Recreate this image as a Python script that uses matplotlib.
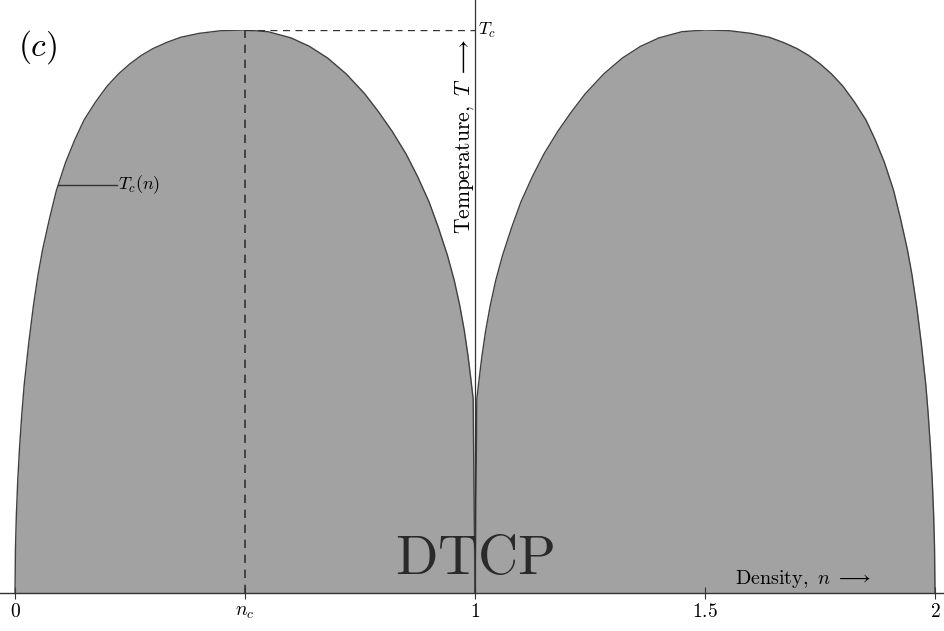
import matplotlib
matplotlib.use("Agg")
import matplotlib.pyplot as plt

plt.rcParams['mathtext.fontset'] = 'cm'
plt.rcParams['font.family'] = 'serif'
plt.rcParams['font.serif'] = ['DejaVu Serif']

# left dome T_c(n)/T_c
n_left = [0.0, 0.001, 0.003, 0.006, 0.01, 0.015, 0.02, 0.03, 0.04, 0.05,
          0.06, 0.075, 0.09, 0.11, 0.13, 0.15, 0.175, 0.20, 0.225, 0.25,
          0.275, 0.30, 0.33, 0.36, 0.40, 0.45, 0.50, 0.55, 0.60, 0.64, 0.68,
          0.72, 0.76, 0.79, 0.82, 0.85, 0.875, 0.90, 0.92, 0.94, 0.955,
          0.967, 0.977, 0.985, 0.991, 0.996, 1.0]
T_left = [0.0, 0.08, 0.14, 0.20, 0.26, 0.32, 0.37, 0.445, 0.51, 0.565,
          0.61, 0.665, 0.715, 0.765, 0.805, 0.84, 0.872, 0.90, 0.922, 0.94,
          0.955, 0.967, 0.978, 0.987, 0.994, 0.999, 1.0, 0.997, 0.986, 0.971,
          0.950, 0.922, 0.887, 0.855, 0.82, 0.78, 0.74, 0.695, 0.65, 0.60,
          0.555, 0.51, 0.465, 0.42, 0.38, 0.345, 0.0]

# right dome
n_right = [1.0, 1.004, 1.009, 1.015, 1.023, 1.033, 1.045, 1.06, 1.08, 1.10,
           1.125, 1.15, 1.18, 1.21, 1.24, 1.28, 1.32, 1.36, 1.40, 1.45, 1.50,
           1.55, 1.60, 1.64, 1.67, 1.70, 1.725, 1.75, 1.775, 1.80, 1.825,
           1.85, 1.87, 1.89, 1.91, 1.925, 1.94, 1.95, 1.96, 1.97, 1.98, 1.985,
           1.99, 1.994, 1.997, 1.999, 2.0]
T_right = [0.0, 0.345, 0.38, 0.42, 0.465, 0.51, 0.555, 0.60, 0.65, 0.695,
           0.74, 0.78, 0.82, 0.855, 0.887, 0.922, 0.950, 0.971, 0.986, 0.997,
           1.0, 0.999, 0.994, 0.987, 0.978, 0.967, 0.955, 0.94, 0.922, 0.90,
           0.872, 0.84, 0.805, 0.765, 0.715, 0.665, 0.61, 0.565, 0.51, 0.445,
           0.37, 0.32, 0.26, 0.20, 0.14, 0.08, 0.0]

n_c = 0.5
tick_pos = [0, n_c, 1, 1.5, 2]
tick_lab = [r'$0$', r'$n_c$', r'$1$', r'$1.5$', r'$2$']

fig = plt.figure(figsize=(9.45, 6.31), dpi=100)
ax = fig.add_axes([0, 38 / 631, 1, 563 / 631])
ax.set_xlim(-15 / 460, 930 / 460)
ax.set_ylim(0, 1)

grey = '#a2a2a2'
edge = '#404040'
ax.fill_between(n_left, T_left, color=grey, lw=0)
ax.fill_between(n_right, T_right, color=grey, lw=0)
ax.plot(n_left, T_left, color=edge, lw=1.0)
ax.plot(n_right, T_right, color=edge, lw=1.0)

# n_c and T_c guides
ax.plot([n_c, n_c], [0, 1], color='#333333', lw=1.2, ls=(0, (5, 4)))
ax.plot([n_c, 1], [1, 1], color='#333333', lw=1.0, ls=(0, (5, 4)))

# vertical temperature axis at n = 1
ax.plot([1, 1], [0, 1.06], color='#333333', lw=0.9, clip_on=False)

for s in ['left', 'right', 'top']:
    ax.spines[s].set_visible(False)
ax.spines['bottom'].set_color('#333333')
ax.spines['bottom'].set_linewidth(1.0)
ax.set_yticks([])
ax.set_xticks(tick_pos)
ax.set_xticklabels(tick_lab, fontsize=14)
ax.tick_params(axis='x', direction='inout', length=9, width=0.8,
               color='#333333', pad=3)

ax.text(0.019, 0.97, r'$(c)$', fontsize=24, ha='left', va='center',
        transform=ax.transAxes)
ax.plot([0.093, 0.222], [0.725, 0.725], color='#333333', lw=1.0)
ax.text(0.225, 0.725, r'$T_c(n)$', fontsize=13, ha='left', va='center')
ax.text(1.006, 1.0, r'$T_c$', fontsize=13, ha='left', va='center')
ax.text(0.978, 0.985, r'$\mathrm{Temperature,}\ T\ \longrightarrow$',
        fontsize=15.5, rotation=90, ha='center', va='top')
ax.text(1.566, 0.025, r'$\mathrm{Density,}\ n\ \longrightarrow$',
        fontsize=14.5, ha='left', va='center')
ax.text(1.0, 0.012, r'$\mathrm{DTCP}$', fontsize=40, ha='center',
        va='bottom', color='#2a2a2a')

fig.savefig('out.png', dpi=100)
